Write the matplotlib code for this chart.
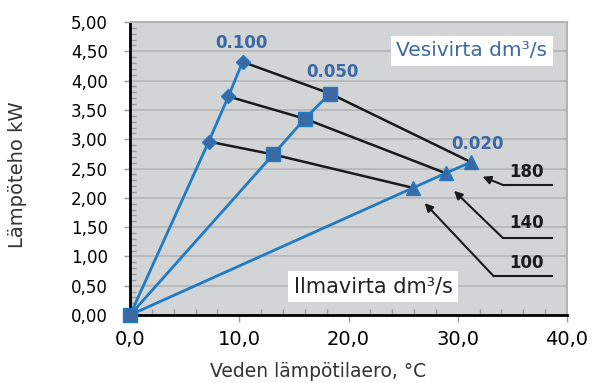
import matplotlib.pyplot as plt
from matplotlib.ticker import FuncFormatter, MultipleLocator

# Vesivirta-sarjat (dm3/s): lämpötilaero (°C) ja lämpöteho (kW)
dt_0100 = [0.0, 7.2, 9.0, 10.3]
p_0100 = [0.0, 2.96, 3.73, 4.32]
dt_0050 = [0.0, 13.1, 16.0, 18.3]
p_0050 = [0.0, 2.74, 3.35, 3.78]
dt_0020 = [0.0, 25.9, 28.9, 31.2]
p_0020 = [0.0, 2.17, 2.42, 2.61]

# Ilmavirrat (dm3/s)
ilmavirrat = ["100", "140", "180"]

sininen = "#1f7bc4"
tumma = "#3b69a3"

fig = plt.figure(figsize=(5.94, 3.83), dpi=100)
ax = fig.add_axes([0.219, 0.1775, 0.7355, 0.765])
ax.set_facecolor("#d3d4d6")

# ilmavirta-viivat (mustat)
for i in range(3):
    xs = [dt_0100[i + 1], dt_0050[i + 1], dt_0020[i + 1]]
    ys = [p_0100[i + 1], p_0050[i + 1], p_0020[i + 1]]
    ax.plot(xs, ys, color="#1a1a1a", lw=1.8, zorder=3)

# vesivirta-sarjat
for xs, ys in [(dt_0100, p_0100), (dt_0050, p_0050), (dt_0020, p_0020)]:
    ax.plot(xs, ys, color=sininen, lw=2, zorder=4)
ax.plot(dt_0100[1:], p_0100[1:], ls="none", marker="D", ms=7.5,
        mfc=tumma, mec=sininen, zorder=5)
ax.plot(dt_0050, p_0050, ls="none", marker="s", ms=10.5,
        mfc=tumma, mec=sininen, zorder=5, clip_on=False)
ax.plot(dt_0020[1:], p_0020[1:], ls="none", marker="^", ms=10.5,
        mfc=tumma, mec=sininen, zorder=5)

# sarjojen nimet
ax.text(10.2, 4.64, "0.100", color=tumma, fontsize=12, fontweight="bold",
        ha="center", va="center")
ax.text(18.5, 4.14, "0.050", color=tumma, fontsize=12, fontweight="bold",
        ha="center", va="center")
ax.text(31.8, 2.91, "0.020", color=tumma, fontsize=12, fontweight="bold",
        ha="center", va="center")

# ilmavirta-nuolet
kohteet = [(26.97, 1.91), (29.66, 2.12), (32.27, 2.36)]
alku_x = [33.3, 34.1, 34.2]
viiva_y = [0.66, 1.32, 2.215]
teksti_y = [0.89, 1.57, 2.44]
for lab, (tx, ty), x0, yl, yt in zip(ilmavirrat, kohteet, alku_x, viiva_y, teksti_y):
    ax.plot([x0, 38.6], [yl, yl], color="#1a1a1a", lw=1.5, zorder=3)
    ax.annotate("", xy=(tx, ty), xytext=(x0, yl),
                arrowprops=dict(arrowstyle="-|>", color="#1a1a1a", lw=1.5,
                                mutation_scale=12, shrinkA=0, shrinkB=0))
    ax.text(36.3, yt, lab, fontsize=12, fontweight="bold", color="#1a1a1a",
            ha="center", va="center")

# tekstilaatikot
ax.text(31.3, 4.51, "Vesivirta dm³/s", color=tumma, fontsize=14.5,
        ha="center", va="center",
        bbox=dict(facecolor="white", edgecolor="none", pad=4))
ax.text(22.25, 0.49, "Ilmavirta dm³/s", color="#222222", fontsize=15,
        ha="center", va="center",
        bbox=dict(facecolor="white", edgecolor="none", pad=4))

ax.set_xlim(0, 40)
ax.set_ylim(0, 5)
ax.xaxis.set_major_locator(MultipleLocator(10))
ax.xaxis.set_minor_locator(MultipleLocator(2))
ax.yaxis.set_major_locator(MultipleLocator(0.5))
ax.yaxis.set_minor_locator(MultipleLocator(0.1))
ax.xaxis.set_major_formatter(FuncFormatter(lambda v, p: f"{v:.1f}".replace(".", ",")))
ax.yaxis.set_major_formatter(FuncFormatter(lambda v, p: f"{v:.2f}".replace(".", ",")))

ax.grid(axis="y", which="major", color="#b3b4b6", lw=1.2, zorder=0)
ax.set_axisbelow(True)

ax.tick_params(axis="x", which="major", direction="out", length=5, width=1,
               color="#999999", labelsize=14, pad=6)
ax.tick_params(axis="x", which="minor", direction="in", length=4, width=1,
               color="#999999")
ax.tick_params(axis="y", which="major", direction="out", length=4, width=1,
               color="#999999", labelsize=12, pad=12)
ax.tick_params(axis="y", which="minor", direction="in", length=4, width=1,
               color="#999999")

for s in ["left", "bottom"]:
    ax.spines[s].set_color("black")
    ax.spines[s].set_linewidth(2)
for s in ["top", "right"]:
    ax.spines[s].set_color("#b3b4b6")
    ax.spines[s].set_linewidth(1.5)

ax.set_xlabel("Veden lämpötilaero, °C", fontsize=13.5, color="#333333")
ax.xaxis.set_label_coords(0.43, -0.16)
ax.set_ylabel("Lämpöteho kW", fontsize=14, color="#333333")
ax.yaxis.set_label_coords(-0.235, 0.48)

fig.savefig("out.png", dpi=100)
